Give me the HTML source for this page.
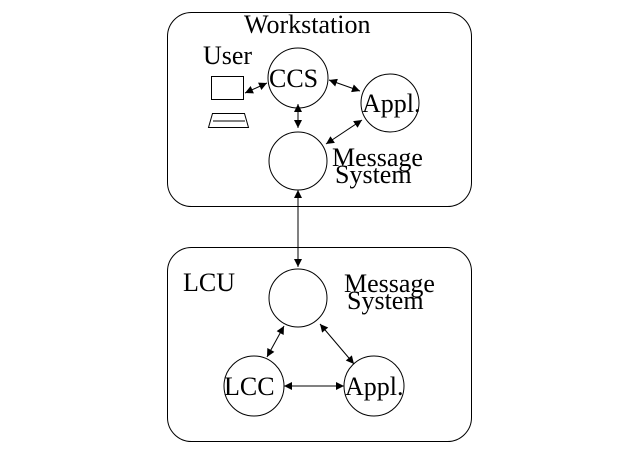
<!DOCTYPE html>
<html><head><style>body{margin:0;background:#fff}svg text{font-family:"Liberation Serif",serif;font-size:26px;fill:#000}</style></head><body>
<svg width="626" height="451" viewBox="0 0 626 451" xmlns="http://www.w3.org/2000/svg">
<defs><marker id="a" viewBox="0 0 10 10" refX="10" refY="5" markerWidth="11" markerHeight="8" orient="auto-start-reverse" markerUnits="userSpaceOnUse"><path d="M0,0L10,5L0,10z" fill="#000"/></marker></defs>
<g fill="none" stroke="#000" stroke-width="1">
<rect x="167.5" y="12.5" width="304" height="194" rx="24"/>
<rect x="167.5" y="247.5" width="304" height="194" rx="24"/>
<circle cx="298" cy="78" r="30"/>
<circle cx="390" cy="103" r="29"/>
<circle cx="298" cy="161" r="29"/>
<rect x="211.5" y="76.5" width="32" height="23"/>
<path d="M212.5,113.5H244.5L248.5,127.5H208.5Z"/>
<path d="M213,121H245"/>
<circle cx="298" cy="298" r="29"/>
<circle cx="254" cy="386" r="30"/>
<circle cx="374" cy="386" r="30"/>
<g marker-start="url(#a)" marker-end="url(#a)">
<line x1="245" y1="93" x2="267" y2="83"/>
<line x1="329" y1="80" x2="360" y2="91"/>
<line x1="298" y1="104" x2="298" y2="128"/>
<line x1="326" y1="144" x2="362" y2="120"/>
<line x1="298" y1="190" x2="298" y2="267"/>
<line x1="284" y1="326" x2="267" y2="357"/>
<line x1="320" y1="324" x2="354" y2="364"/>
<line x1="284" y1="386" x2="344" y2="386"/>
</g>
</g>
<text x="244" y="33">Workstation</text>
<text x="203" y="64">User</text>
<text x="269" y="87">CCS</text>
<text x="362" y="112">Appl.</text>
<text x="332" y="166">Message</text>
<text x="335" y="183">System</text>
<text x="183" y="291">LCU</text>
<text x="344" y="292">Message</text>
<text x="347" y="309">System</text>
<text x="224" y="395">LCC</text>
<text x="345" y="395">Appl.</text>
</svg>
</body></html>
